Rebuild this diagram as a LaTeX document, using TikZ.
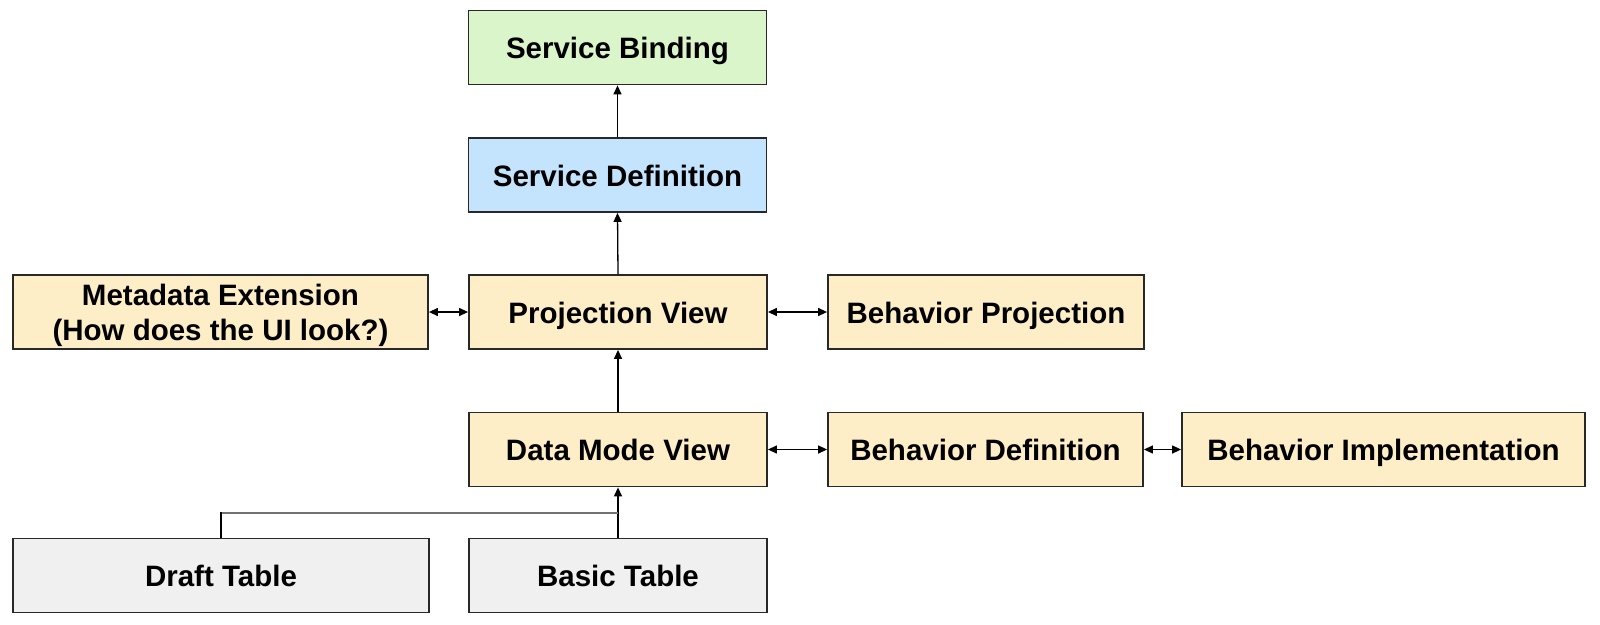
\documentclass[tikz,border=0pt]{standalone}
\usepackage{fontspec}
\setmainfont{Liberation Sans}
\usetikzlibrary{arrows.meta}
\definecolor{bindgreen}{RGB}{217,245,201}
\definecolor{defblue}{RGB}{196,228,253}
\definecolor{viewbeige}{RGB}{253,238,200}
\definecolor{tablegrey}{RGB}{240,240,240}
\definecolor{edgegrey}{RGB}{40,40,40}
\begin{document}
\begin{tikzpicture}[x=1pt,y=-1pt,
  boxfont/.style={font=\fontsize{29.5}{35}\selectfont\bfseries},
  frame/.style={draw=edgegrey, line width=1.8pt, rectangle, minimum height=74pt,
    inner sep=0pt, align=center, boxfont},
  box/.style={frame, text height=22pt, text depth=0pt},
  wide/.style={box, minimum width=298pt},
  link/.style={line width=1.3pt, -{Triangle[length=9pt,width=8pt]}},
  twoway/.style={line width=1.3pt, {Triangle[length=9pt,width=8pt]}-{Triangle[length=9pt,width=8pt]}}]
\useasboundingbox (0,0) rectangle (1600,624);

% central column
\node[wide, fill=bindgreen] (sb) at (617.5,47.5) {Service Binding};
\node[wide, fill=defblue] (sd) at (617.5,175) {Service Definition};
\node[wide, fill=viewbeige] (pv) at (618,312) {Projection View};
\node[wide, fill=viewbeige] (dmv) at (618,449.5) {Data Mode View};
\node[wide, fill=tablegrey] (bt) at (618,575.5) {Basic Table};

% side boxes
\node[frame, fill=viewbeige, minimum width=415pt] (me) at (220.5,312) {};
\node[boxfont, align=center, inner sep=0pt] (metext) at ([yshift=-3pt]me.center)
  {Metadata Extension\\(How does the UI look?)};
\node[box, fill=viewbeige, minimum width=316pt] (bp) at (986,312) {Behavior Projection};
\node[box, fill=viewbeige, minimum width=315pt] (bd) at (985.5,449.5) {Behavior Definition};
\node[box, fill=viewbeige, minimum width=403pt] (bi) at (1383.5,449.5) {Behavior Implementation};
\node[box, fill=tablegrey, minimum width=416pt] (dt) at (221,575.5) {Draft Table};

% vertical flow
\draw[link] (sd.north) -- (sb.south);
\draw[link] (pv.north) -- (sd.south);
\draw[link] (dmv.north) -- (pv.south);
\draw[link] (bt.north) -- (dmv.south);
\coordinate (join) at (618,513);
\draw[line width=1.3pt] (dt.north) |- (join);
\draw[line width=1.6pt, black!55] ([xshift=0.7pt]dt.north |- join) -- (join);

% two-way links
\draw[twoway] (me.east) -- (pv.west);
\draw[twoway] (pv.east) -- (bp.west);
\draw[twoway] (dmv.east) -- (bd.west);
\draw[twoway] (bd.east) -- (bi.west);
\end{tikzpicture}
\end{document}
